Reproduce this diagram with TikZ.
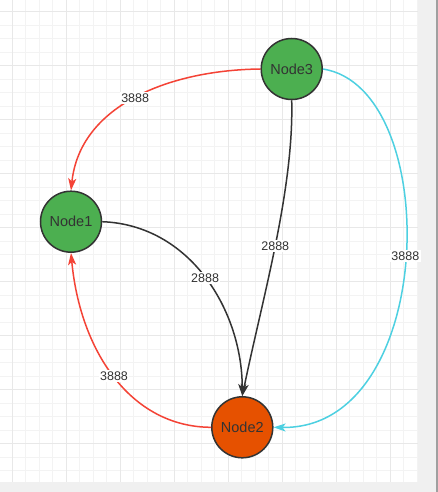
\documentclass[tikz,border=0pt]{standalone}
\usepackage{fontspec}
\setmainfont{Liberation Sans}
\usetikzlibrary{arrows.meta}
\definecolor{gridminor}{HTML}{F3F3F3}
\definecolor{gridmajor}{HTML}{E8E8E8}
\definecolor{panelgray}{HTML}{F0F0F0}
\definecolor{edgegray}{HTML}{A0A0A0}
\definecolor{nodegreen}{HTML}{4CAF50}
\definecolor{nodeorange}{HTML}{E65100}
\definecolor{nodeborder}{HTML}{333333}
\definecolor{linkred}{HTML}{F44336}
\definecolor{linkcyan}{HTML}{4DD0E1}
\definecolor{linkdark}{HTML}{333333}
\tikzset{
  graphnode/.style  = {shape=circle, draw=nodeborder, line width=1.5pt,
                       minimum size=61pt, inner sep=0pt, text=nodeborder,
                       font=\fontsize{14.5}{16}\selectfont},
  greennode/.style  = {graphnode, fill=nodegreen},
  orangenode/.style = {graphnode, fill=nodeorange},
  link/.style       = {line width=1.5pt, -{Stealth[length=12pt,width=8pt,inset=3pt]}},
  weight/.style     = {fill=white, inner sep=1.5pt, text=nodeborder,
                       font=\fontsize{12.5}{14}\selectfont},
}
\begin{document}
\begin{tikzpicture}[x=1pt, y=-1pt]
    \useasboundingbox (0,0) rectangle (438,492);
    % canvas
    \fill[panelgray] (0,0) rectangle (438,492);
    \fill[edgegray] (436,0) rectangle (438,492);
    \fill[white] (0,0) rectangle (417.5,481.7);
    \foreach \i in {0,...,30}
        \draw[gridminor, line width=1pt] ({12+13.5*\i},0) -- ({12+13.5*\i},481.7);
    \foreach \i in {0,...,34}
        \draw[gridminor, line width=1pt] (0,{11.7+13.5*\i}) -- (417.5,{11.7+13.5*\i});
    \foreach \i in {0,...,7}
        \draw[gridmajor, line width=1pt] ({12+54*\i},0) -- ({12+54*\i},481.7);
    \foreach \i in {0,...,8}
        \draw[gridmajor, line width=1pt] (0,{11.7+54*\i}) -- (417.5,{11.7+54*\i});

    % nodes
    \node [greennode]  (n3) at (291.7,69)    {Node3};
    \node [greennode]  (n1) at (71,221.7)    {Node1};
    \node [orangenode] (n2) at (242.3,427.3) {Node2};

    % links
    \draw[link, linkred]  (n3.west) .. controls (170,70) and (80,105) .. (n1.north)
        node[weight, pos=0.5] {3888};
    \draw[link, linkred]  (n2.west) .. controls (130,427) and (80,350) .. (n1.south)
        node[weight, pos=0.5] {3888};
    \draw[link, linkdark] (n1.east) .. controls (190,225) and (242,310) .. (n2.north)
        node[weight, pos=0.5] {2888};
    \draw[link, linkdark] (n3.south) .. controls (294,190) and (262,300) .. (n2.north)
        node[weight, pos=0.5] {2888};
    \draw[link, linkcyan] (n3.east) .. controls (444,88) and (438,430) .. (n2.east)
        node[weight, pos=0.5] {3888};
\end{tikzpicture}
\end{document}
